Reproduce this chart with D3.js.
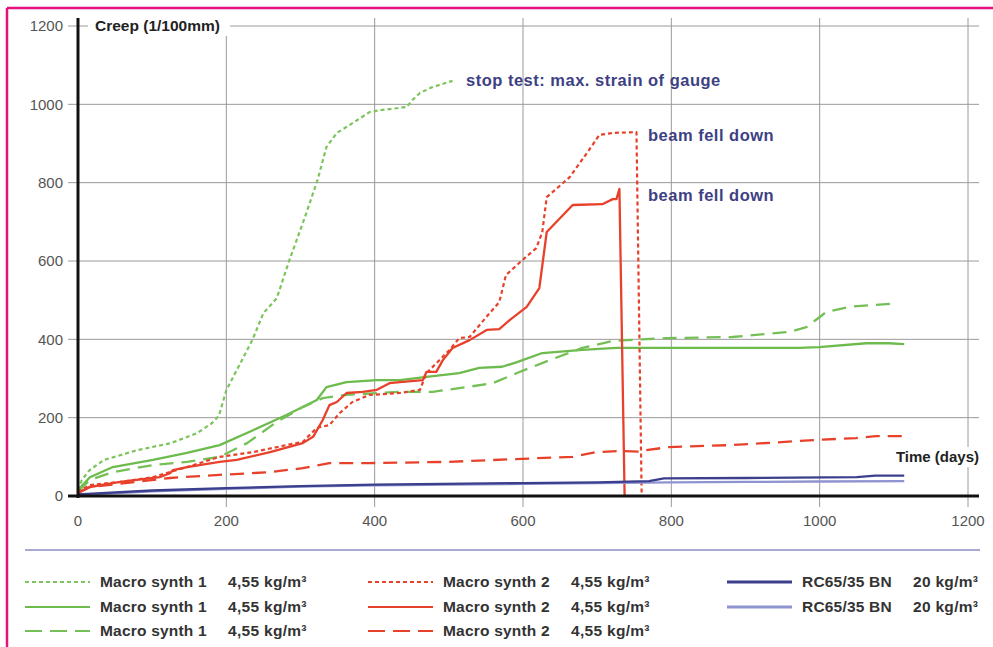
<!DOCTYPE html>
<html>
<head>
<meta charset="utf-8">
<script src="https://cdn.jsdelivr.net/npm/d3@7"></script>
<style>
  body { margin: 0; background: #fff; }
  svg { display: block; font-family: "Liberation Sans", Arial, sans-serif; }
</style>
</head>
<body>
<svg id="chart" width="993" height="647"></svg>
<script>
// Axis ticks
const xTicks = [0, 200, 400, 600, 800, 1000, 1200];
const yTicks = [0, 200, 400, 600, 800, 1000, 1200];

// Series values: [days, creep]
const synth1Dotted = [[0, 15], [5, 40], [15, 65], [35, 92], [80, 117], [125, 135], [160, 160], [180, 185], [190, 205], [200, 270], [235, 398], [250, 467], [268, 505], [285, 602], [306, 712], [323, 807], [335, 891], [349, 927], [366, 947], [393, 980], [407, 985], [443, 993], [451, 1011], [461, 1029], [478, 1044], [505, 1060]];
const synth1Solid = [[0, 15], [16, 48], [47, 74], [101, 92], [147, 110], [191, 130], [236, 168], [281, 207], [322, 245], [335, 278], [362, 291], [403, 296], [434, 296], [470, 304], [514, 314], [541, 327], [572, 330], [592, 342], [626, 365], [680, 373], [726, 378], [793, 378], [972, 378], [999, 380], [1063, 390], [1094, 390], [1114, 388]];
const synth1Dashed = [[0, 12], [16, 41], [47, 61], [101, 79], [147, 87], [191, 100], [228, 135], [268, 189], [303, 227], [330, 250], [362, 258], [434, 266], [478, 266], [524, 278], [559, 288], [592, 314], [636, 347], [680, 378], [721, 396], [793, 403], [882, 406], [959, 419], [982, 431], [1009, 470], [1040, 483], [1104, 492]];
const synth2Dotted = [[0, 10], [16, 28], [57, 36], [101, 48], [147, 74], [191, 100], [236, 112], [281, 130], [303, 138], [322, 174], [339, 181], [353, 212], [370, 240], [393, 258], [434, 263], [461, 271], [470, 314], [501, 373], [514, 403], [528, 406], [555, 467], [568, 495], [577, 564], [599, 602], [618, 633], [626, 674], [632, 763], [663, 814], [687, 878], [703, 922], [721, 927], [753, 929], [760, 0]];
const synth2Solid = [[0, 8], [16, 23], [57, 36], [110, 48], [124, 58], [128, 66], [147, 74], [191, 87], [214, 92], [259, 112], [303, 135], [317, 151], [330, 194], [339, 232], [349, 240], [362, 263], [384, 266], [403, 271], [420, 288], [434, 291], [465, 296], [470, 317], [483, 317], [492, 347], [505, 378], [528, 398], [551, 424], [568, 426], [582, 449], [605, 483], [622, 531], [632, 674], [667, 743], [707, 745], [721, 758], [726, 758], [730, 784], [737, 0]];
const synth2Dashed = [[0, 8], [16, 23], [79, 36], [124, 46], [191, 54], [259, 61], [303, 71], [339, 84], [393, 84], [497, 87], [586, 94], [667, 100], [699, 112], [734, 115], [761, 113], [766, 117], [797, 125], [882, 130], [995, 143], [1049, 148], [1076, 153], [1114, 153]];
const rcDark = [[0, 4], [100, 14], [200, 20], [300, 25], [400, 29], [600, 33], [700, 35], [770, 38], [790, 45], [900, 46], [1050, 48], [1075, 52], [1114, 52]];
const rcLight = [[0, 2], [100, 12], [200, 18], [300, 24], [400, 27], [600, 31], [700, 33], [800, 35], [900, 36], [1000, 37], [1114, 38]];

const legendNames = ["Macro synth 1", "Macro synth 2", "RC65/35 BN"];
const legendUnits = ["4,55 kg/m³", "4,55 kg/m³", "20 kg/m³"];
const notes = ["stop test: max. strain of gauge", "beam fell down", "beam fell down"];

const green = "#6cbb4c", red = "#e8412b", navy = "#3b3f8c", lilac = "#8e94cf";
const dotDash = "4,3", longDash = "14,8";

const series = [
  { data: synth1Dotted, color: "#7cc45c", dash: dotDash, col: 0, row: 0 },
  { data: synth1Solid, color: green, dash: null, col: 0, row: 1 },
  { data: synth1Dashed, color: "#74c056", dash: longDash, col: 0, row: 2 },
  { data: synth2Dotted, color: red, dash: dotDash, col: 1, row: 0 },
  { data: synth2Solid, color: red, dash: null, col: 1, row: 1 },
  { data: synth2Dashed, color: red, dash: longDash, col: 1, row: 2 },
  { data: rcLight, color: lilac, dash: null, col: 2, row: 1 },
  { data: rcDark, color: navy, dash: null, col: 2, row: 0 }
];

const svg = d3.select("#chart");

// pink frame (top and left edges only)
svg.append("line").attr("x1", 7).attr("x2", 993).attr("y1", 8).attr("y2", 8)
  .attr("stroke", "#e4117f").attr("stroke-width", 2.5);
svg.append("line").attr("x1", 7).attr("x2", 7).attr("y1", 8).attr("y2", 647)
  .attr("stroke", "#e4117f").attr("stroke-width", 2.5);

const x = d3.scaleLinear().domain([0, 1200]).range([78, 968]);
const y = d3.scaleLinear().domain([0, 1200]).range([496, 26]);

// grid
svg.append("g").selectAll("line").data(yTicks).join("line")
  .attr("x1", 68).attr("x2", 979)
  .attr("y1", d => y(d)).attr("y2", d => y(d))
  .attr("stroke", "#9a9a9a").attr("stroke-width", 1);
svg.append("g").selectAll("line").data(xTicks.slice(1)).join("line")
  .attr("x1", d => x(d)).attr("x2", d => x(d))
  .attr("y1", 18).attr("y2", 507)
  .attr("stroke", "#9a9a9a").attr("stroke-width", 1);

// tick labels
svg.append("g").selectAll("text").data(yTicks).join("text")
  .attr("x", 63).attr("y", d => y(d)).attr("dy", "0.35em")
  .attr("text-anchor", "end").attr("font-size", 15).attr("fill", "#555")
  .text(d => d);
svg.append("g").selectAll("text").data(xTicks).join("text")
  .attr("x", d => x(d)).attr("y", 526)
  .attr("text-anchor", "middle").attr("font-size", 15).attr("fill", "#555")
  .text(d => d);

// axis titles with white backing
svg.append("rect").attr("x", 88).attr("y", 16).attr("width", 142).attr("height", 20).attr("fill", "#fff");
svg.append("text").attr("x", 95).attr("y", 31)
  .attr("font-size", 15.5).attr("font-weight", "bold").attr("fill", "#222")
  .text("Creep (1/100mm)");
svg.append("rect").attr("x", 886).attr("y", 447).attr("width", 94).attr("height", 20).attr("fill", "#fff");
svg.append("text").attr("x", 979).attr("y", 462)
  .attr("text-anchor", "end").attr("font-size", 15).attr("font-weight", "bold").attr("fill", "#222")
  .text("Time (days)");

// series lines
const line = d3.line().x(d => x(d[0])).y(d => y(d[1]));
svg.append("g").selectAll("path").data(series).join("path")
  .attr("d", d => line(d.data))
  .attr("fill", "none")
  .attr("stroke", d => d.color)
  .attr("stroke-width", d => d.dash === dotDash ? 2.2 : 2.3)
  .attr("stroke-dasharray", d => d.dash)
  .attr("stroke-linejoin", "round");

// axes
svg.append("line").attr("x1", x(0)).attr("x2", x(0)).attr("y1", 18).attr("y2", 498)
  .attr("stroke", "#111").attr("stroke-width", 3);
svg.append("line").attr("x1", 68).attr("x2", 979).attr("y1", y(0)).attr("y2", y(0))
  .attr("stroke", "#111").attr("stroke-width", 3);

// annotations
const notePos = [[466, 80], [648, 135], [648, 195]];
svg.append("g").selectAll("text").data(notes).join("text")
  .attr("x", (d, i) => notePos[i][0]).attr("y", (d, i) => notePos[i][1]).attr("dy", "0.35em")
  .attr("font-size", 16.5).attr("font-weight", "bold").attr("letter-spacing", 0.5).attr("fill", "#3d4183")
  .text(d => d);

// separator
svg.append("line").attr("x1", 25).attr("x2", 980).attr("y1", 550).attr("y2", 550)
  .attr("stroke", "#8a8fc4").attr("stroke-width", 1.5);

// legend
const colX = [25, 368, 727];
const rowY = [582, 607, 631];
const unitOff = [203, 203, 186];
const leg = svg.append("g").selectAll("g").data(series).join("g")
  .attr("transform", d => `translate(${colX[d.col]},${rowY[d.row]})`);
leg.append("line").attr("x1", 0).attr("x2", 65).attr("y1", 0).attr("y2", 0)
  .attr("stroke", d => d.color).attr("stroke-width", d => d.col === 2 ? 3 : 2.2)
  .attr("stroke-dasharray", d => d.dash === longDash ? "17,8" : d.dash);
leg.append("text").attr("x", 75).attr("dy", "0.35em")
  .attr("font-size", 15.5).attr("font-weight", "bold").attr("letter-spacing", 0.2).attr("fill", "#333")
  .text(d => legendNames[d.col]);
leg.append("text").attr("x", d => unitOff[d.col]).attr("dy", "0.35em")
  .attr("font-size", 15.5).attr("font-weight", "bold").attr("letter-spacing", 0.3).attr("fill", "#333")
  .text(d => legendUnits[d.col]);
</script>
</body>
</html>
